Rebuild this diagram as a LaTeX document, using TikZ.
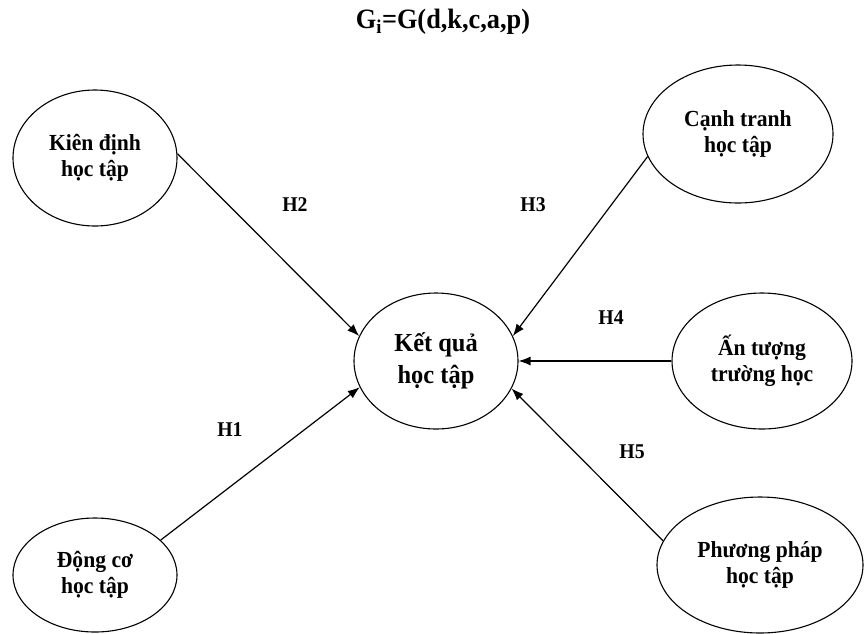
\documentclass[tikz,border=0pt]{standalone}
\usepackage{fontspec}
\setmainfont{Liberation Serif}
\newfontfamily\labelfont[FakeStretch=0.94]{Liberation Serif}
\usetikzlibrary{shapes.geometric,arrows.meta}
\begin{document}
\begin{tikzpicture}[x=1pt,y=-1pt,
  factor/.style={ellipse,draw,line width=1.1pt,inner sep=0pt,align=center,
    font=\labelfont\bfseries\fontsize{23}{26}\selectfont},
  outcome/.style={factor,font=\labelfont\bfseries\fontsize{26}{32}\selectfont},
  link/.style={line width=1.2pt,-{Latex[length=12pt,width=9pt]}},
  hyp/.style={font=\labelfont\bfseries\fontsize{21}{24}\selectfont}]
\useasboundingbox (0,0) rectangle (864,633);

% formula
\node[font=\labelfont\bfseries\fontsize{28}{30}\selectfont] (title) at (443,22) {G\textsubscript{i}=G(d,k,c,a,p)};

% outcome
\node[outcome,minimum width=164pt,minimum height=136pt] (ket) at (436,361) {Kết quả\\học tập};

% factors
\node[factor,minimum width=164pt,minimum height=136pt] (kien) at (95,158) {Kiên định\\học tập};
\node[factor,minimum width=190pt,minimum height=138pt] (canh) at (738,134) {Cạnh tranh\\học tập};
\node[factor,minimum width=180pt,minimum height=136pt] (an) at (762,361) {Ấn tượng\\trường học};
\node[factor,minimum width=164pt,minimum height=114pt] (dong) at (95,575) {Động cơ\\học tập};
\node[factor,minimum width=206pt,minimum height=136pt] (phuong) at (760,565) {Phương pháp\\học tập};

% hypotheses
\draw[link] (kien.3) -- (ket.162);
\draw[link] (canh.194) -- (ket.18);
\draw[link] (an.west) -- (ket.east);
\draw[link] (dong.28) -- (ket.199);
\draw[link] (phuong.166) -- (ket.-20);

\node[hyp] (h2) at (295,205) {H2};
\node[hyp] (h3) at (533,205) {H3};
\node[hyp] (h4) at (611,318) {H4};
\node[hyp] (h1) at (230,430) {H1};
\node[hyp] (h5) at (632,452) {H5};
\end{tikzpicture}
\end{document}
